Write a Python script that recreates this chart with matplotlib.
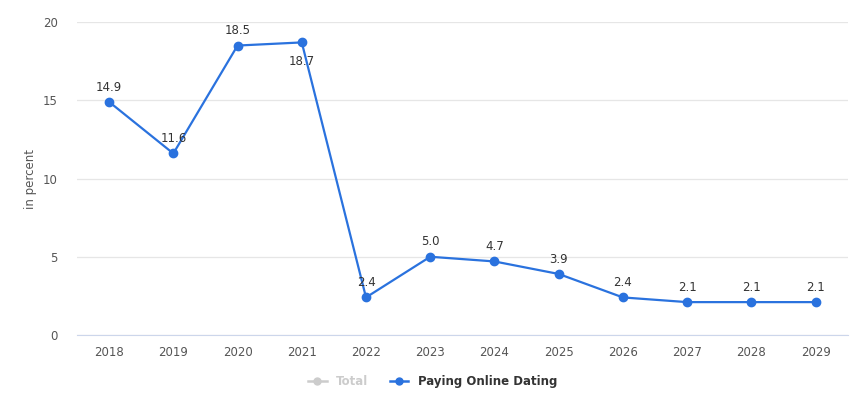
import matplotlib.pyplot as plt
from matplotlib.lines import Line2D

years = [2018, 2019, 2020, 2021, 2022, 2023, 2024, 2025, 2026, 2027, 2028, 2029]
paying = [14.9, 11.6, 18.5, 18.7, 2.4, 5.0, 4.7, 3.9, 2.4, 2.1, 2.1, 2.1]
labels_below = [2021]

blue = '#2a72de'

fig = plt.figure(figsize=(8.65, 4.09), dpi=100)
ax = fig.add_axes([0.089, 0.181, 0.891, 0.765])

ax.plot(years, paying, color=blue, lw=1.6, marker='o', ms=6, zorder=3)

for x, v in zip(years, paying):
    if x in labels_below:
        ax.annotate(f"{v:.1f}", (x, v), xytext=(0, -9), textcoords='offset points',
                    ha='center', va='top', fontsize=8.5, color='#333333')
    else:
        ax.annotate(f"{v:.1f}", (x, v), xytext=(0, 6), textcoords='offset points',
                    ha='center', va='bottom', fontsize=8.5, color='#333333')

ax.set_xlim(2017.5, 2029.5)
ax.set_ylim(0, 20)
ax.set_yticks([0, 5, 10, 15, 20])
ax.set_xticks(years)
ax.grid(axis='y', color='#e6e6e6', lw=0.9)
ax.set_axisbelow(True)
for s in ['top', 'right', 'left']:
    ax.spines[s].set_visible(False)
ax.spines['bottom'].set_color('#ccd6eb')
ax.tick_params(axis='both', length=0, labelsize=8.5, colors='#555555', pad=8)
ax.tick_params(axis='y', pad=14)
ax.set_ylabel('in percent', fontsize=8.5, color='#555555', labelpad=4)

handles = [
    Line2D([0], [0], color='#cccccc', marker='o', ms=5, lw=1.8),
    Line2D([0], [0], color=blue, marker='o', ms=5, lw=1.8),
]
leg = fig.legend(handles, ['Total', 'Paying Online Dating'], loc='center',
                 bbox_to_anchor=(0.5, 0.068), ncol=2, frameon=False,
                 fontsize=8.5, handlelength=1.6, columnspacing=1.8)
texts = leg.get_texts()
texts[0].set_color('#cccccc')
texts[1].set_color('#333333')
for t in texts:
    t.set_fontweight('bold')

fig.savefig('out.png', dpi=100)
